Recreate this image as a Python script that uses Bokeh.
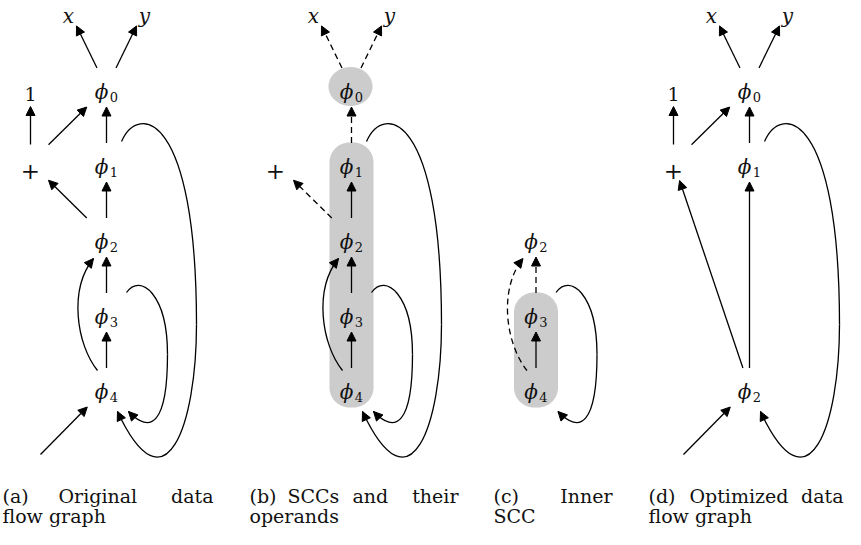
import numpy as np
from bokeh.plotting import figure
from bokeh.models import Range1d, Arrow, NormalHead, ColumnDataSource
from bokeh.core.properties import value
from bokeh.embed import file_html
from bokeh.resources import INLINE

# ---------------- data ----------------
# (a) original data flow graph
A_NAMES = ["x", "y", "1", "+", "phi0", "phi1", "phi2", "phi3", "phi4", "in"]
A_X = [68, 144, 30, 30, 106, 106, 106, 106, 106, 40]
A_Y = [15, 15, 93, 168, 93, 168, 243, 318, 393, 460]
A_EDGES = [("phi0", "x", "line", "solid"), ("phi0", "y", "line", "solid"),
           ("+", "1", "line", "solid"), ("+", "phi0", "line", "solid"),
           ("phi1", "phi0", "line", "solid"), ("phi2", "+", "line", "solid"),
           ("phi2", "phi1", "line", "solid"), ("phi3", "phi2", "line", "solid"),
           ("phi4", "phi3", "line", "solid"), ("in", "phi4", "line", "solid"),
           ("phi4", "phi2", "skip", "solid"), ("phi3", "phi4", "loop_small", "solid"),
           ("phi1", "phi4", "loop_big", "solid")]
A_GROUPS = []

# (b) SCCs and their operands
B_NAMES = ["x", "y", "+", "phi0", "phi1", "phi2", "phi3", "phi4"]
B_X = [313, 389, 275, 351, 351, 351, 351, 351]
B_Y = [15, 15, 168, 93, 168, 243, 318, 393]
B_EDGES = [("phi0", "x", "line", "dashed"), ("phi0", "y", "line", "dashed"),
           ("phi1", "phi0", "line", "dashed"), ("phi2", "+", "line", "dashed"),
           ("phi2", "phi1", "line", "solid"), ("phi3", "phi2", "line", "solid"),
           ("phi4", "phi3", "line", "solid"),
           ("phi4", "phi2", "skip", "solid"), ("phi3", "phi4", "loop_small", "solid"),
           ("phi1", "phi4", "loop_big", "solid")]
B_GROUPS = [["phi0"], ["phi1", "phi2", "phi3", "phi4"]]

# (c) inner SCC
C_NAMES = ["phi2", "phi3", "phi4"]
C_X = [535.5, 535.5, 535.5]
C_Y = [243, 318, 393]
C_EDGES = [("phi3", "phi2", "line", "dashed"), ("phi4", "phi3", "line", "solid"),
           ("phi4", "phi2", "skip", "dashed"), ("phi3", "phi4", "loop_small", "solid")]
C_GROUPS = [["phi3", "phi4"]]

# (d) optimized data flow graph
D_NAMES = ["x", "y", "1", "+", "phi0", "phi1", "phi2", "in"]
D_X = [711, 787, 673, 673, 749, 749, 749, 683]
D_Y = [15, 15, 93, 168, 93, 168, 393, 460]
D_EDGES = [("phi0", "x", "line", "solid"), ("phi0", "y", "line", "solid"),
           ("+", "1", "line", "solid"), ("+", "phi0", "line", "solid"),
           ("phi1", "phi0", "line", "solid"), ("phi2", "+", "line", "solid"),
           ("phi2", "phi1", "line", "solid"), ("in", "phi2", "line", "solid"),
           ("phi1", "phi2", "loop_big", "solid")]
D_GROUPS = []

# captions (first line words, second line)
CAP_LINE1 = [["(a)", "Original", "data"], ["(b)", "SCCs", "and", "their"],
             ["(c)", "Inner"], ["(d)", "Optimized", "data"]]
CAP_LINE2 = ["flow graph", "operands", "SCC", "flow graph"]

# ---------------- layout / style ----------------
CAP_WORD_X = [[2, 58, 213], [249, 287, 352, 458], [493, 612], [648, 689, 843]]
CAP_COL_LEFT = [2, 249, 493, 648]
CAP_Y1, CAP_Y2 = 501, 521
SERIF = "DejaVu Serif"
GRAY = "#cccccc"
LW = 1.3
DASH = "6 4"

HALF = {"x": (8, 17), "y": (8, 17), "1": (8, 19), "+": (18, 18), "in": (0, 0)}
PHI_HALF = (20, 19.5)

W, H, DY = 845, 529, 6
p = figure(width=W, height=H, x_range=Range1d(0, W), y_range=Range1d(H + DY, DY),
           title=None, output_backend="svg", toolbar_location=None,
           x_axis_type=None, y_axis_type=None,
           min_border=0, outline_line_color=None, background_fill_color="white",
           border_fill_color="white")
p.grid.visible = False


def half(name):
    return PHI_HALF if name.startswith("phi") else HALF[name]


def clip(c, h, d):
    t = np.inf
    if abs(d[0]) > 1e-9:
        t = min(t, h[0] / abs(d[0]))
    if abs(d[1]) > 1e-9:
        t = min(t, h[1] / abs(d[1]))
    if not np.isfinite(t):
        t = 0
    return c + d * t


def curve_segments(kind, s, t):
    o = lambda base, dx, dy: base + np.array([dx, dy], dtype=float)
    if kind == "skip":
        return [(o(s, -9, -17), o(s, -30, -43), o(t, -38, 52), o(t, -13, 21))]
    if kind == "loop_small":
        m = o(s, 61, 42)
        return [(o(s, 20, -20), o(s, 34, -40), o(s, 61, -18), m),
                (m, o(t, 61, 37), o(t, 44, 47), o(t, 22, 24))]
    if kind == "loop_big":
        m = o(t, 90, -63)
        return [(o(s, 15, -21), o(s, 32, -60), o(s, 90, -50), m),
                (m, o(t, 90, 37), o(t, 59, 127), o(t, 11, 24))]
    return []


def rounded_rect(x0, x1, y0, y1, r, n=16):
    xs, ys = [], []
    corners = [(x1 - r, y0 + r, -90, 0), (x1 - r, y1 - r, 0, 90),
               (x0 + r, y1 - r, 90, 180), (x0 + r, y0 + r, 180, 270)]
    for cx, cy, a0, a1 in corners:
        for a in np.radians(np.linspace(a0, a1, n)):
            xs.append(cx + r * np.cos(a))
            ys.append(cy + r * np.sin(a))
    return xs, ys


straight = {"solid": dict(x0=[], y0=[], x1=[], y1=[]), "dashed": dict(x0=[], y0=[], x1=[], y1=[])}
beziers = {"solid": dict(x0=[], y0=[], x1=[], y1=[], cx0=[], cy0=[], cx1=[], cy1=[]),
           "dashed": dict(x0=[], y0=[], x1=[], y1=[], cx0=[], cy0=[], cx1=[], cy1=[])}
heads = dict(x0=[], y0=[], x1=[], y1=[])
phi_glyph = dict(x=[], y=[], text=[])
phi_sub = dict(x=[], y=[], text=[])
italic_lbl = dict(x=[], y=[], text=[])
one_lbl = dict(x=[], y=[], text=[])
plus_lbl = dict(x=[], y=[], text=[])
gray_x, gray_y = [], []

panels = [(A_NAMES, A_X, A_Y, A_EDGES, A_GROUPS), (B_NAMES, B_X, B_Y, B_EDGES, B_GROUPS),
          (C_NAMES, C_X, C_Y, C_EDGES, C_GROUPS), (D_NAMES, D_X, D_Y, D_EDGES, D_GROUPS)]

for names, xs, ys, edges, groups in panels:
    pos = {n: np.array([x, y], dtype=float) for n, x, y in zip(names, xs, ys)}
    # gray SCC shapes
    for g in groups:
        cxs = [pos[n][0] for n in g]
        cys = [pos[n][1] for n in g]
        if len(g) == 1:
            a = np.linspace(0, 2 * np.pi, 64)
            gray_x.append(list(cxs[0] - 1 + 22 * np.cos(a)))
            gray_y.append(list(cys[0] - 1 + 19.5 * np.sin(a)))
        else:
            rx, ry = rounded_rect(min(cxs) - 22, max(cxs) + 22, min(cys) - 20, max(cys) + 20, 20)
            gray_x.append(rx)
            gray_y.append(ry)
    # edges
    for src, dst, kind, style in edges:
        s, t = pos[src], pos[dst]
        if kind == "line":
            d = (t - s) / np.linalg.norm(t - s)
            a = clip(s, half(src), d)
            b = clip(t, half(dst), -d)
            S = straight[style]
            S["x0"].append(a[0]); S["y0"].append(a[1]); S["x1"].append(b[0]); S["y1"].append(b[1])
        else:
            segs = curve_segments(kind, s, t)
            B = beziers[style]
            for p0, p1, p2, p3 in segs:
                B["x0"].append(p0[0]); B["y0"].append(p0[1])
                B["x1"].append(p3[0]); B["y1"].append(p3[1])
                B["cx0"].append(p1[0]); B["cy0"].append(p1[1])
                B["cx1"].append(p2[0]); B["cy1"].append(p2[1])
            p2, p3 = segs[-1][2], segs[-1][3]
            u = (p3 - p2) / np.linalg.norm(p3 - p2)
            heads["x0"].append(p3[0] - 2 * u[0]); heads["y0"].append(p3[1] - 2 * u[1])
            heads["x1"].append(p3[0]); heads["y1"].append(p3[1])
    # labels
    for n in names:
        c = pos[n]
        if n.startswith("phi"):
            phi_glyph["x"].append(c[0] - 5); phi_glyph["y"].append(c[1] + 4.5); phi_glyph["text"].append("ϕ")
            phi_sub["x"].append(c[0] + 7.5); phi_sub["y"].append(c[1] + 9); phi_sub["text"].append(n[3:])
        elif n in ("x", "y"):
            italic_lbl["x"].append(c[0]); italic_lbl["y"].append(c[1] + 6.5); italic_lbl["text"].append(n)
        elif n == "1":
            one_lbl["x"].append(c[0]); one_lbl["y"].append(c[1] + 6.5); one_lbl["text"].append(n)
        elif n == "+":
            plus_lbl["x"].append(c[0]); plus_lbl["y"].append(c[1] + 8); plus_lbl["text"].append(n)

# gray shapes
p.patches(xs=gray_x, ys=gray_y, fill_color=GRAY, line_color=None)

# curves
for style in ("solid", "dashed"):
    if beziers[style]["x0"]:
        p.bezier(source=ColumnDataSource(beziers[style]), x0="x0", y0="y0", x1="x1", y1="y1",
                 cx0="cx0", cy0="cy0", cx1="cx1", cy1="cy1", line_color="black", line_width=LW,
                 line_dash=("solid" if style == "solid" else DASH))


def head():
    return NormalHead(size=9, fill_color="black", line_color="black", line_width=1)


for style in ("solid", "dashed"):
    if straight[style]["x0"]:
        p.add_layout(Arrow(end=head(), source=ColumnDataSource(straight[style]),
                           x_start="x0", y_start="y0", x_end="x1", y_end="y1",
                           line_color="black", line_width=LW,
                           line_dash=("solid" if style == "solid" else DASH)))
p.add_layout(Arrow(end=head(), source=ColumnDataSource(heads), x_start="x0", y_start="y0",
                   x_end="x1", y_end="y1", line_alpha=0))

# node labels
TXT = "#111111"
p.text(source=ColumnDataSource(phi_glyph), x="x", y="y", text="text", text_font=value(SERIF),
       text_font_style="italic", text_font_size="20px", text_align="center",
       text_baseline="alphabetic", text_color=TXT)
p.text(source=ColumnDataSource(phi_sub), x="x", y="y", text="text", text_font=value(SERIF),
       text_font_size="13px", text_align="center", text_baseline="alphabetic", text_color=TXT)
p.text(source=ColumnDataSource(italic_lbl), x="x", y="y", text="text", text_font=value(SERIF),
       text_font_style="italic", text_font_size="20px", text_align="center",
       text_baseline="alphabetic", text_color=TXT)
p.text(source=ColumnDataSource(one_lbl), x="x", y="y", text="text", text_font=value(SERIF),
       text_font_size="19px", text_align="center", text_baseline="alphabetic", text_color=TXT)
p.text(source=ColumnDataSource(plus_lbl), x="x", y="y", text="text", text_font=value(SERIF),
       text_font_size="23px", text_align="center", text_baseline="alphabetic", text_color=TXT)

# captions
cap = dict(x=[], y=[], text=[], align=[])
for words, wx in zip(CAP_LINE1, CAP_WORD_X):
    for i, (w, x) in enumerate(zip(words, wx)):
        cap["x"].append(x); cap["y"].append(CAP_Y1); cap["text"].append(w)
        cap["align"].append("right" if (i == len(words) - 1 and i > 0) else "left")
for line, x in zip(CAP_LINE2, CAP_COL_LEFT):
    cap["x"].append(x); cap["y"].append(CAP_Y2); cap["text"].append(line); cap["align"].append("left")
p.text(source=ColumnDataSource(cap), x="x", y="y", text="text", text_align="align",
       text_font=value(SERIF), text_font_size="19px", text_baseline="alphabetic",
       text_color=TXT)

open("out.html", "w").write(file_html(p, INLINE))
